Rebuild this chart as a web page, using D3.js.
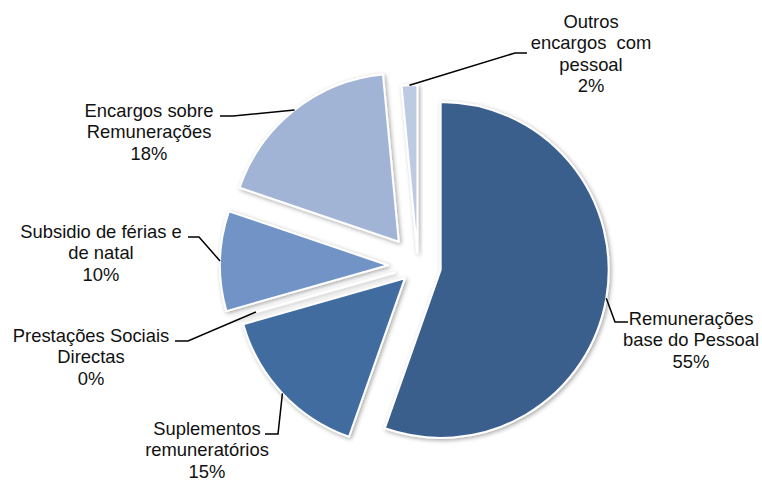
<!DOCTYPE html>
<html>
<head>
<meta charset="utf-8">
<script src="https://cdn.jsdelivr.net/npm/d3@7"></script>
<style>
  html, body { margin: 0; padding: 0; background: #ffffff; }
  svg { display: block; }
</style>
</head>
<body>
<svg id="chart" width="762" height="483"></svg>
<script>
// Personnel expenses breakdown (share of total, %)
const categories = [
  "Remunerações\nbase do Pessoal",
  "Suplementos\nremuneratórios",
  "Prestações Sociais\nDirectas",
  "Subsidio de férias e\nde natal",
  "Encargos sobre\nRemunerações",
  "Outros\nencargos  com\npessoal"
];
const values = [55.4, 15.2, 0, 9.6, 18.3, 1.5];
const colors = ["#3a5e8d", "#416ca0", "#5a80b8", "#7193c5", "#a2b4d5", "#bccae2"];

// ---- layout ----
const W = 762, H = 483;
const cx = 418, cy = 266, radius = 168;
const explode = [23, 18, 24, 30, 31, 13];        // per-slice pull-out distance
const leaderReach = [1, 1, 0.86, 1, 1, 1];       // where the leader meets the slice
const labelLayout = [
  { x: 691, y: 325, leader: [[628, 322], [615, 322]] },
  { x: 207, y: 435, leader: [[265, 434], [278, 434]] },
  { x: 91,  y: 342, leader: [[175, 341], [188, 341]] },
  { x: 101, y: 238, leader: [[188, 237], [199, 237]] },
  { x: 149, y: 117, leader: [[220, 116], [233, 116]] },
  { x: 591, y: 28,  leader: [[527, 53],  [515, 53]] }
];
const lineHeight = 21.3;

const svg = d3.select("#chart");

const defs = svg.append("defs");
const f = defs.append("filter").attr("id", "sliceShadow")
  .attr("x", "-30%").attr("y", "-30%").attr("width", "160%").attr("height", "160%");
f.append("feDropShadow")
  .attr("dx", 1.5).attr("dy", 1.5).attr("stdDeviation", 2)
  .attr("flood-color", "#000").attr("flood-opacity", 0.35);

const total = d3.sum(values);
const pie = d3.pie().sort(null).value(d => d)(values);
const arc = d3.arc().innerRadius(0).outerRadius(radius);
const pct = d3.format(".0%");

function unit(a) { return [Math.sin(a), -Math.cos(a)]; }

const slices = svg.append("g").attr("class", "slices");
pie.forEach((p, i) => {
  const mid = (p.startAngle + p.endAngle) / 2;
  const u = unit(mid);
  const ox = cx + explode[i] * u[0], oy = cy + explode[i] * u[1];
  slices.append("path")
    .attr("transform", `translate(${ox},${oy})`)
    .attr("d", arc(p))
    .attr("fill", colors[i])
    .attr("stroke", "#ffffff")
    .attr("stroke-width", 2)
    .attr("stroke-linejoin", "round")
    .attr("filter", "url(#sliceShadow)");
});

// leader lines
const leaders = svg.append("g").attr("class", "leaders");
pie.forEach((p, i) => {
  const mid = (p.startAngle + p.endAngle) / 2;
  const u = unit(mid);
  const ox = cx + explode[i] * u[0], oy = cy + explode[i] * u[1];
  const r = radius * leaderReach[i];
  const end = [ox + r * u[0], oy + r * u[1]];
  const pts = labelLayout[i].leader.concat([end]);
  leaders.append("path")
    .attr("d", d3.line()(pts))
    .attr("fill", "none")
    .attr("stroke", "#000")
    .attr("stroke-width", 1.5);
});

// labels
const labels = svg.append("g").attr("class", "labels")
  .attr("font-family", "'Liberation Sans', Arial, sans-serif")
  .attr("font-size", "18.4px")
  .attr("fill", "#111");
pie.forEach((p, i) => {
  const lines = categories[i].split("\n").concat([pct(values[i] / total)]);
  const t = labels.append("text")
    .attr("text-anchor", "middle")
    .style("white-space", "pre")
    .attr("x", labelLayout[i].x)
    .attr("y", labelLayout[i].y);
  lines.forEach((ln, k) => {
    t.append("tspan")
      .attr("x", labelLayout[i].x)
      .attr("dy", k === 0 ? 0 : lineHeight)
      .text(ln);
  });
});
</script>
</body>
</html>
